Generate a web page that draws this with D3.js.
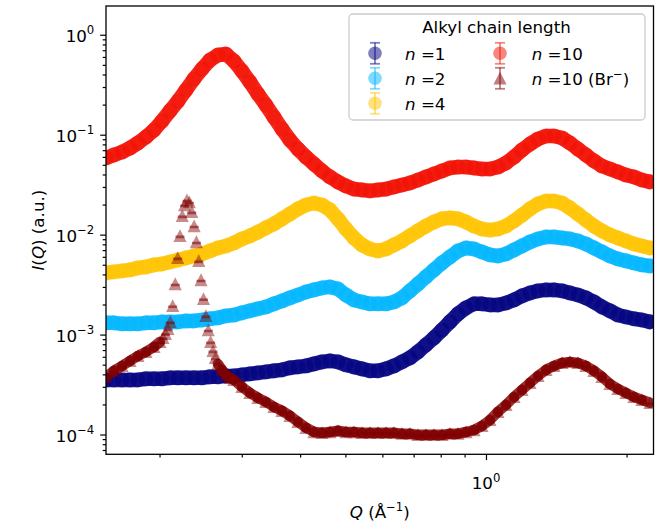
<!DOCTYPE html>
<html><head><meta charset="utf-8">
<script src="https://cdn.jsdelivr.net/npm/d3@7"></script>
<style>
body{margin:0;background:#fff}
svg{display:block}
text{font-family:"DejaVu Sans",sans-serif;fill:#000}
</style>
</head><body>
<svg id="c" width="672" height="529"></svg>
<script>
// ---- data ----
const Q = [0.1536,0.1597,0.1662,0.1729,0.1798,0.1870,0.1946,0.2024,0.2105,0.2190,
0.2278,0.2369,0.2465,0.2564,0.2667,0.2774,0.2886,0.3002,0.3123,0.3249,
0.3379,0.3516,0.3658,0.3804,0.3957,0.4118,0.4283,0.4455,0.4634,0.4820,
0.5014,0.5216,0.5426,0.5644,0.5871,0.6108,0.6353,0.6608,0.6875,0.7151,
0.7438,0.7738,0.8049,0.8372,0.8710,0.9061,0.9425,0.9804,1.0200,1.0610,
1.1036,1.1482,1.1944,1.2424,1.2924,1.3445,1.3984,1.4546,1.5131,1.5740,
1.6372,1.7031,1.7718,1.8430,1.9172,1.9943,2.0745,2.1578,2.2446];

const I_n1 = [3.52e-4,3.52e-4,3.52e-4,3.52e-4,3.52e-4,3.61e-4,3.61e-4,3.61e-4,3.69e-4,3.69e-4,
3.69e-4,3.69e-4,3.69e-4,3.78e-4,3.78e-4,3.86e-4,3.86e-4,3.95e-4,4.05e-4,4.14e-4,
4.24e-4,4.34e-4,4.44e-4,4.65e-4,4.75e-4,4.86e-4,5.09e-4,5.33e-4,5.46e-4,5.33e-4,
4.98e-4,4.75e-4,4.54e-4,4.34e-4,4.34e-4,4.54e-4,4.86e-4,5.33e-4,5.85e-4,6.71e-4,
7.89e-4,9.27e-4,1.11e-3,1.34e-3,1.61e-3,1.85e-3,2.03e-3,2.03e-3,1.98e-3,1.98e-3,
2.07e-3,2.22e-3,2.44e-3,2.61e-3,2.74e-3,2.80e-3,2.80e-3,2.74e-3,2.61e-3,2.49e-3,
2.33e-3,2.12e-3,1.89e-3,1.73e-3,1.57e-3,1.50e-3,1.44e-3,1.40e-3,1.34e-3];

const I_n2 = [1.31e-3,1.31e-3,1.28e-3,1.28e-3,1.28e-3,1.31e-3,1.31e-3,1.34e-3,1.34e-3,1.34e-3,
1.37e-3,1.37e-3,1.40e-3,1.44e-3,1.47e-3,1.54e-3,1.57e-3,1.65e-3,1.73e-3,1.81e-3,
1.89e-3,2.03e-3,2.17e-3,2.33e-3,2.49e-3,2.67e-3,2.80e-3,2.93e-3,3.00e-3,2.86e-3,
2.49e-3,2.22e-3,2.12e-3,2.03e-3,2.03e-3,2.03e-3,2.12e-3,2.33e-3,2.74e-3,3.21e-3,
3.78e-3,4.44e-3,5.21e-3,5.98e-3,6.87e-3,7.36e-3,7.19e-3,6.71e-3,6.27e-3,6.12e-3,
6.41e-3,7.03e-3,7.71e-3,8.45e-3,9.06e-3,9.48e-3,9.48e-3,9.27e-3,9.06e-3,8.65e-3,
8.07e-3,7.36e-3,6.71e-3,6.12e-3,5.71e-3,5.46e-3,5.21e-3,4.98e-3,4.86e-3];

const I_n4 = [4.14e-3,4.24e-3,4.34e-3,4.44e-3,4.65e-3,4.75e-3,4.98e-3,5.09e-3,5.33e-3,5.58e-3,
5.85e-3,6.12e-3,6.41e-3,6.87e-3,7.36e-3,7.71e-3,8.26e-3,9.06e-3,9.71e-3,1.06e-2,
1.17e-2,1.28e-2,1.44e-2,1.61e-2,1.81e-2,1.98e-2,2.07e-2,1.98e-2,1.77e-2,1.44e-2,
1.14e-2,9.27e-3,7.89e-3,7.19e-3,6.87e-3,7.19e-3,7.89e-3,8.65e-3,9.71e-3,1.09e-2,
1.22e-2,1.34e-2,1.44e-2,1.47e-2,1.44e-2,1.34e-2,1.22e-2,1.14e-2,1.11e-2,1.14e-2,
1.22e-2,1.37e-2,1.57e-2,1.81e-2,2.03e-2,2.17e-2,2.17e-2,2.07e-2,1.85e-2,1.61e-2,
1.40e-2,1.22e-2,1.09e-2,9.93e-3,9.27e-3,8.65e-3,8.07e-3,7.71e-3,7.36e-3];

const I_n10 = [5.85e-2,6.27e-2,6.71e-2,7.36e-2,8.26e-2,9.48e-2,0.1114,0.137,0.173,0.217,
0.280,0.361,0.454,0.558,0.627,0.641,0.546,0.434,0.337,0.255,
0.198,0.150,0.114,0.0885,0.0719,0.0598,0.0509,0.0434,0.0378,0.0337,
0.0307,0.0286,0.0280,0.0274,0.0280,0.0286,0.0300,0.0314,0.0329,0.0352,
0.0378,0.0405,0.0434,0.0465,0.0475,0.0475,0.0465,0.0454,0.0454,0.0475,
0.0521,0.0598,0.0703,0.0807,0.0906,0.0971,0.0971,0.0927,0.0826,0.0719,
0.0627,0.0546,0.0486,0.0454,0.0424,0.0395,0.0378,0.0352,0.0337];

const Q_br = [0.1536,0.1597,0.1662,0.1729,0.1798,0.1870,0.1946,0.2004,
0.2034,0.2059,0.2085,0.2109,0.2134,0.2161,0.2187,0.2212,0.2237,0.2263,0.2290,0.2317,
0.2344,0.2372,0.2399,0.2427,0.2454,0.2484,0.2513,0.2543,0.2573,0.2603,0.2634,
0.2667,0.2720,0.2774,0.2829,
0.2886,0.3002,0.3123,0.3249,0.3379,0.3516,0.3658,0.3804,0.3957,0.4118,
0.4283,0.4455,0.4634,0.4820,0.5014,0.5216,0.5426,0.5644,0.5871,0.6108,
0.6353,0.6608,0.6875,0.7151,0.7438,0.7738,0.8049,0.8372,0.8710,0.9061,
0.9425,0.9804,1.0200,1.0610,1.1036,1.1482,1.1944,1.2424,1.2924,1.3445,
1.3984,1.4546,1.5131,1.5740,1.6372,1.7031,1.7718,1.8430,1.9172,1.9943,
2.0745,2.1578,2.2446];

const I_br = [3.78e-4,4.34e-4,4.86e-4,5.46e-4,6.12e-4,6.71e-4,7.53e-4,8.45e-4,
9.27e-4,1.02e-3,1.14e-3,1.34e-3,1.94e-3,3.21e-3,5.85e-3,9.71e-3,1.54e-2,1.98e-2,2.22e-2,2.12e-2,
1.69e-2,1.22e-2,8.45e-3,5.46e-3,3.52e-3,2.28e-3,1.54e-3,1.11e-3,8.45e-4,6.87e-4,5.85e-4,
5.09e-4,4.44e-4,3.95e-4,3.69e-4,
3.52e-4,3.00e-4,2.61e-4,2.33e-4,2.12e-4,1.89e-4,1.73e-4,1.54e-4,1.34e-4,1.17e-4,
1.06e-4,1.04e-4,1.06e-4,1.09e-4,1.06e-4,1.06e-4,1.04e-4,1.04e-4,1.04e-4,1.04e-4,
1.04e-4,1.02e-4,1.02e-4,9.93e-5,9.93e-5,9.93e-5,9.93e-5,1.02e-4,1.02e-4,1.06e-4,
1.11e-4,1.22e-4,1.40e-4,1.69e-4,1.98e-4,2.38e-4,2.80e-4,3.29e-4,3.86e-4,4.44e-4,
4.86e-4,5.21e-4,5.33e-4,5.21e-4,4.86e-4,4.34e-4,3.78e-4,3.21e-4,2.86e-4,2.61e-4,
2.38e-4,2.22e-4,2.08e-4];

const seriesNames = ["1","2","4","10","10 (Br"];
const seriesColors = ["#000080","#00b6ff","#ffc400","#f20d00","#800000"];
const yMajor = [1e-4,1e-3,1e-2,1e-1,1e0];
const yExp = ["\u22124","\u22123","\u22122","\u22121","0"];
const xMajor = [1];
const xMinor = [0.2,0.3,0.4,0.5,0.6,0.7,0.8,0.9,2];

// ---- layout ----
const W = 672, H = 529;
const m = {l:106, t:6, r:18.5, b:74.7};
const FS = 16.7;
const svg = d3.select("#c");
const x = d3.scaleLog().domain([0.1536, 2.284]).range([m.l, W - m.r]);
const y = d3.scaleLog().domain([6.34e-5, 1.94]).range([H - m.b, m.t]);

svg.append("defs").append("clipPath").attr("id","clip")
  .append("rect").attr("x",m.l).attr("y",m.t)
  .attr("width",W-m.l-m.r).attr("height",H-m.t-m.b);

const plot = svg.append("g").attr("clip-path","url(#clip)");
const triPath = "M0,-6.6L6.6,6.2L-6.6,6.2Z";
const line = d3.line().x(d => x(d[0])).y(d => y(d[1]));

const series = [
  {q:Q, v:I_n1, c:seriesColors[0], tri:false},
  {q:Q, v:I_n2, c:seriesColors[1], tri:false},
  {q:Q, v:I_n4, c:seriesColors[2], tri:false},
  {q:Q, v:I_n10, c:seriesColors[3], tri:false},
  {q:Q_br, v:I_br, c:seriesColors[4], tri:true}
];

series.forEach(s => {
  const pts = d3.zip(s.q, s.v);
  const g = plot.append("g");
  if (!s.tri) {
    // dense marker band: the measured points joined by a band as wide as a marker
    g.append("path").attr("d", line(pts)).attr("fill","none")
      .attr("stroke", s.c).attr("stroke-width", 14.5).attr("stroke-opacity", 0.88)
      .attr("stroke-linejoin","round").attr("stroke-linecap","round");
    g.selectAll("circle").data(pts).join("circle")
      .attr("cx", d => x(d[0])).attr("cy", d => y(d[1]))
      .attr("r", 7.6).attr("fill", s.c).attr("fill-opacity", 0.5);
  } else {
    // band only along the evenly sampled (dense) stretches; the peak stays as single markers
    const segs = d3.pairs(pts).filter(([a, b]) => x(b[0]) - x(a[0]) > 3.5);
    g.selectAll("path.band").data(segs).join("path").attr("class","band")
      .attr("d", d => line(d)).attr("fill","none")
      .attr("stroke", s.c).attr("stroke-width", 10.5).attr("stroke-opacity", 0.8)
      .attr("stroke-linecap","round");
    g.selectAll("path.mk").data(pts).join("path").attr("class","mk")
      .attr("transform", d => `translate(${x(d[0])},${y(d[1])})`)
      .attr("d", triPath).attr("fill", s.c).attr("fill-opacity", 0.45);
    g.selectAll("line").data(pts).join("line")
      .attr("x1", d => x(d[0]) - 4.5).attr("x2", d => x(d[0]) + 4.5)
      .attr("y1", d => y(d[1]) + 1).attr("y2", d => y(d[1]) + 1)
      .attr("stroke", s.c).attr("stroke-opacity", 0.55).attr("stroke-width", 2.6);
  }
});

// ---- axes ----
const yMinor = [];
for (let e = -5; e <= 0; e++) for (let k = 2; k <= 9; k++) {
  const v = k * Math.pow(10, e);
  if (v >= y.domain()[0] && v <= y.domain()[1]) yMinor.push(v);
}
const gy = svg.append("g").attr("transform", `translate(${m.l},0)`);
gy.call(d3.axisLeft(y).tickValues(yMajor).tickSize(5.8).tickFormat(""));
gy.append("g").call(d3.axisLeft(y).tickValues(yMinor).tickSize(3.3).tickFormat(""));
const gx = svg.append("g").attr("transform", `translate(0,${H-m.b})`);
gx.call(d3.axisBottom(x).tickValues(xMajor).tickSize(5.8).tickFormat(""));
gx.append("g").call(d3.axisBottom(x).tickValues(xMinor).tickSize(3.3).tickFormat(""));
svg.selectAll(".domain").remove();
svg.selectAll(".tick line").attr("stroke","#000").attr("stroke-width",1.2);

// y tick labels
yMajor.forEach((v, i) => {
  const t = svg.append("text").attr("x", m.l - 11.7).attr("y", y(v) + 7)
    .attr("text-anchor","end").attr("font-size", FS);
  t.append("tspan").text("10");
  t.append("tspan").attr("dy", -7.5).attr("font-size", FS*0.7).text(yExp[i]);
});
// x tick label
xMajor.forEach(v => {
  const t = svg.append("text").attr("x", x(v)).attr("y", 489)
    .attr("text-anchor","middle").attr("font-size", FS);
  t.append("tspan").text("10");
  t.append("tspan").attr("dy", -7.5).attr("font-size", FS*0.7).text("0");
});

// spines
svg.append("rect").attr("x",m.l).attr("y",m.t).attr("width",W-m.l-m.r).attr("height",H-m.t-m.b)
  .attr("fill","none").attr("stroke","#000").attr("stroke-width",1.3);

// axis labels
const xl = svg.append("text").attr("x", (m.l + W - m.r)/2).attr("y", 518)
  .attr("text-anchor","middle").attr("font-size", FS);
xl.append("tspan").attr("font-style","italic").text("Q");
xl.append("tspan").text(" (Å");
xl.append("tspan").attr("dy",-7.5).attr("font-size",FS*0.7).text("\u22121");
xl.append("tspan").attr("dy",7.5).text(")");

const yl = svg.append("text").attr("transform", `translate(44,${(m.t + H - m.b)/2}) rotate(-90)`)
  .attr("text-anchor","middle").attr("font-size", FS);
yl.append("tspan").attr("font-style","italic").text("I");
yl.append("tspan").text("(");
yl.append("tspan").attr("font-style","italic").text("Q");
yl.append("tspan").text(") (a.u.)");

// ---- legend ----
const lg = svg.append("g");
lg.append("rect").attr("x",349).attr("y",14).attr("width",296).attr("height",106).attr("rx",4)
  .attr("fill","#fff").attr("fill-opacity",0.8).attr("stroke","#cccccc").attr("stroke-width",1.3);
lg.append("text").attr("x",496.5).attr("y",32.5).attr("text-anchor","middle")
  .attr("font-size",FS).text("Alkyl chain length");
const legPos = [[375,53.3],[375,78.3],[375,103.3],[500,53.3],[500,78.3]];
seriesNames.forEach((nm, i) => {
  const [lx, ly] = legPos[i];
  const c = seriesColors[i];
  const h = lg.append("g").attr("transform", `translate(${lx},${ly})`);
  h.append("line").attr("x1",0).attr("x2",0).attr("y1",-10.5).attr("y2",10.5)
    .attr("stroke",c).attr("stroke-opacity",0.5).attr("stroke-width",1.8);
  [-10.5, 10.5].forEach(cy => h.append("line").attr("x1",-5).attr("x2",5).attr("y1",cy).attr("y2",cy)
    .attr("stroke",c).attr("stroke-opacity",0.5).attr("stroke-width",1.8));
  if (i < 4) h.append("circle").attr("r",6.8).attr("fill",c).attr("fill-opacity",0.5);
  else h.append("path").attr("d",triPath).attr("fill",c).attr("fill-opacity",0.5);
  const t = lg.append("text").attr("x", lx + (i < 3 ? 30 : 31.7)).attr("y", ly + 6.7).attr("font-size",FS);
  t.append("tspan").attr("font-style","italic").text("n");
  t.append("tspan").text(" =" + nm);
  if (i === 4) {
    t.append("tspan").attr("dy",-7.5).attr("font-size",FS*0.7).text("\u2212");
    t.append("tspan").attr("dy",7.5).text(")");
  }
});
</script>
</body></html>
